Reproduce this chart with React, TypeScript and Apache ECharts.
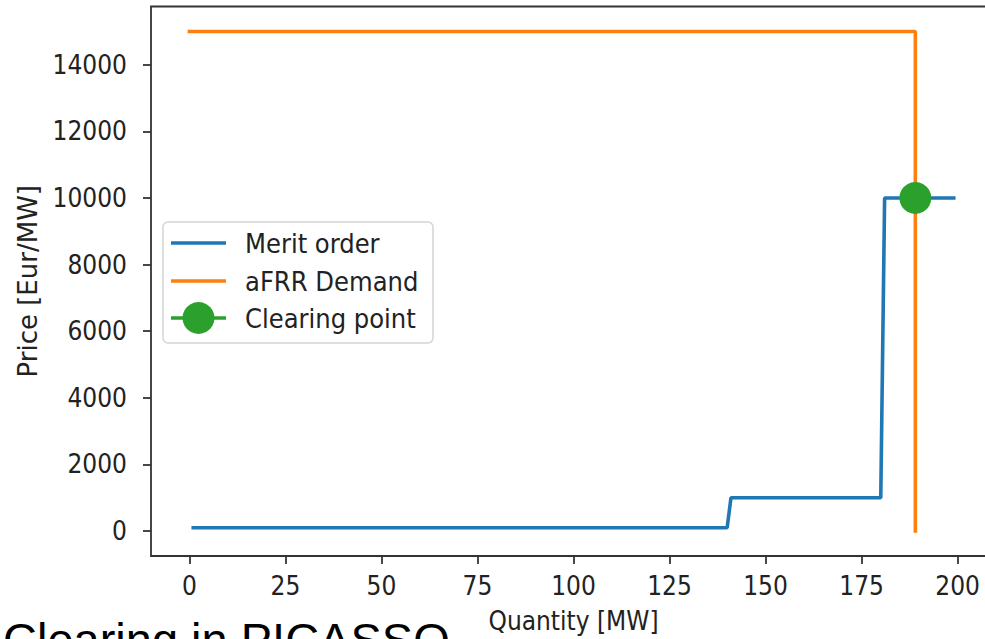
import React, { useEffect, useRef } from "react";
import * as echarts from "echarts";

// ---- data ----
const quantityTicks = [0, 25, 50, 75, 100, 125, 150, 175, 200];
const priceTicks = [0, 2000, 4000, 6000, 8000, 10000, 12000, 14000];
const quantityRange = [-10, 210];
const priceRange = [-750, 15750];

const meritQuantity = [1, 140, 141, 180, 181, 199];
const meritPrice = [100, 100, 1000, 1000, 10000, 10000];

const demandQuantity = [0, 189, 189];
const demandPrice = [15000, 15000, 0];

const clearingQuantity = [189];
const clearingPrice = [10000];

const seriesNames = ["Merit order", "aFRR Demand", "Clearing point"];
const seriesColors = ["#1f77b4", "#ff7f0e", "#2ca02c"];

const xAxisTitle = "Quantity [MW]";
const yAxisTitle = "Price [Eur/MW]";
const caption = "Clearing in PICASSO";

const zip = (xs: number[], ys: number[]) => xs.map((x, i) => [x, ys[i]]);

export default function App() {
  const ref = useRef<HTMLDivElement>(null);

  useEffect(() => {
    if (!ref.current) return;
    const chart = echarts.init(ref.current, undefined, { renderer: "svg" });
    const tickFont = "DejaVu Sans Condensed";
    const textColor = "#222";
    const spine = "#333";

    const legendRows = [243, 281, 318];
    const legendGraphics: any[] = [
      {
        type: "rect",
        shape: { x: 163, y: 222, width: 270, height: 121, r: 5 },
        style: { fill: "rgba(255,255,255,0.85)", stroke: "#d4d4d4", lineWidth: 1.5 },
        z: 10,
      },
    ];
    seriesNames.forEach((name, i) => {
      legendGraphics.push({
        type: "line",
        shape: { x1: 171, y1: legendRows[i], x2: 226, y2: legendRows[i] },
        style: { stroke: seriesColors[i], lineWidth: 3.6 },
        z: 11,
      });
      if (i === 2) {
        legendGraphics.push({
          type: "circle",
          shape: { cx: 198.5, cy: legendRows[i], r: 16 },
          style: { fill: seriesColors[i] },
          z: 12,
        });
      }
      legendGraphics.push({
        type: "text",
        x: 245,
        y: legendRows[i],
        style: {
          text: name,
          fill: textColor,
          font: `27px "${tickFont}"`,
          align: "left",
          verticalAlign: "middle",
        },
        z: 12,
      });
    });

    const plain = (v: number) => String(v);

    chart.setOption({
      animation: false,
      backgroundColor: "#fff",
      grid: {
        left: 151,
        right: 4,
        top: 6.5,
        bottom: 82,
        show: true,
        borderColor: spine,
        borderWidth: 1.8,
        backgroundColor: "transparent",
      },
      xAxis: {
        type: "value",
        min: quantityRange[0],
        max: quantityRange[1],
        axisLine: { show: false, onZero: false },
        splitLine: { show: false },
        axisTick: {
          show: true,
          length: 8,
          inside: false,
          customValues: quantityTicks,
          lineStyle: { color: spine, width: 1.8 },
        },
        axisLabel: {
          customValues: quantityTicks,
          formatter: plain,
          margin: 17,
          color: textColor,
          fontFamily: tickFont,
          fontSize: 26,
        },
        name: xAxisTitle,
        nameLocation: "middle",
        nameGap: 52,
        nameTextStyle: { color: textColor, fontFamily: tickFont, fontSize: 26 },
      },
      yAxis: {
        type: "value",
        min: priceRange[0],
        max: priceRange[1],
        axisLine: { show: false, onZero: false },
        splitLine: { show: false },
        axisTick: {
          show: true,
          length: 8,
          inside: false,
          customValues: priceTicks,
          lineStyle: { color: spine, width: 1.8 },
        },
        axisLabel: {
          customValues: priceTicks,
          formatter: plain,
          margin: 24,
          color: textColor,
          fontFamily: tickFont,
          fontSize: 26,
        },
        name: yAxisTitle,
        nameLocation: "middle",
        nameGap: 110,
        nameTextStyle: { color: textColor, fontFamily: "DejaVu Sans", fontSize: 26 },
      },
      series: [
        {
          name: seriesNames[0],
          type: "line",
          data: zip(meritQuantity, meritPrice),
          showSymbol: false,
          symbol: "none",
          lineStyle: { color: seriesColors[0], width: 3.6, cap: "square" },
        },
        {
          name: seriesNames[1],
          type: "line",
          data: zip(demandQuantity, demandPrice),
          showSymbol: false,
          symbol: "none",
          lineStyle: { color: seriesColors[1], width: 3.6, cap: "square" },
        },
        {
          name: seriesNames[2],
          type: "scatter",
          data: zip(clearingQuantity, clearingPrice),
          symbol: "circle",
          symbolSize: 32,
          itemStyle: { color: seriesColors[2], opacity: 1 },
          z: 5,
        },
      ],
      graphic: [
        ...legendGraphics,
        {
          type: "text",
          x: 3,
          y: 639.5,
          style: {
            text: caption,
            fill: "#000",
            font: '47px "Liberation Sans"',
            align: "left",
            verticalAlign: "middle",
          },
          z: 20,
        },
      ],
    });

    return () => chart.dispose();
  }, []);

  return (
    <div
      style={{
        position: "fixed",
        left: 0,
        top: 0,
        width: 985,
        height: 639,
        overflow: "hidden",
        background: "#fff",
      }}
    >
      <div ref={ref} style={{ width: 1000, height: 639 }} />
    </div>
  );
}
